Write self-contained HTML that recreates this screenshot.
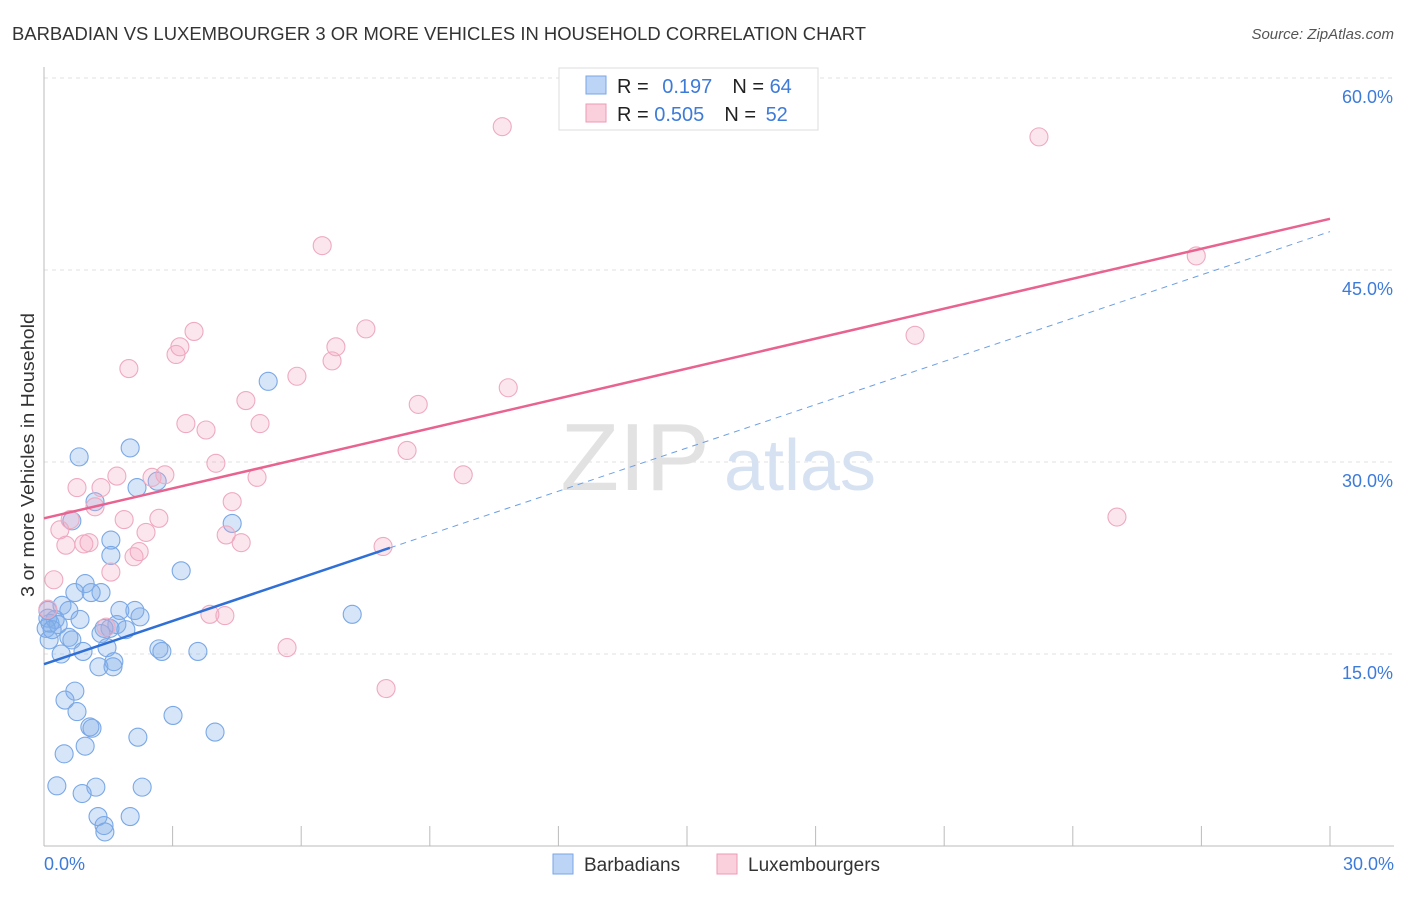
<!DOCTYPE html>
<html><head><meta charset="utf-8"><style>
body{margin:0;background:#fff;font-family:"Liberation Sans",sans-serif;}
svg text{font-family:"Liberation Sans",sans-serif;}
</style></head><body>
<svg width="1406" height="892" viewBox="0 0 1406 892" xmlns="http://www.w3.org/2000/svg">
<text x="12" y="40" font-size="18" fill="#333" textLength="854" lengthAdjust="spacingAndGlyphs">BARBADIAN VS LUXEMBOURGER 3 OR MORE VEHICLES IN HOUSEHOLD CORRELATION CHART</text>
<text x="1394" y="39" font-size="15" fill="#555" font-style="italic" text-anchor="end">Source: ZipAtlas.com</text>
<g id="grid"></g>
<text x="635" y="490" font-size="96" fill="#e2e2e2" font-family="Liberation Serif" text-anchor="middle">ZIP</text>
<text x="800" y="490" font-size="72" fill="#d6e2f2" text-anchor="middle">atlas</text>
<g id="axes"></g>
<g id="pts"></g>
<g id="lines"></g>
<text x="34" y="455" font-size="18" fill="#333" text-anchor="middle" textLength="284" lengthAdjust="spacingAndGlyphs" transform="rotate(-90 34 455)">3 or more Vehicles in Household</text>
<text x="44" y="870" font-size="18" fill="#3d7bd9">0.0%</text>
<text x="1394" y="870" font-size="18" fill="#3d7bd9" text-anchor="end">30.0%</text>
<g>
<rect x="559" y="68" width="259" height="62" fill="#fff" stroke="#ddd"/>
<rect x="586" y="76" width="20" height="18" fill="#bcd4f5" stroke="#7aa6e6"/>
<rect x="586" y="104" width="20" height="18" fill="#fbd0dd" stroke="#ec9ab5"/>
<text x="617" y="93" font-size="20" fill="#222">R = <tspan fill="#3d7bd9" dx="8">0.197</tspan><tspan dx="20">N = </tspan><tspan fill="#3d7bd9">64</tspan></text>
<text x="617" y="121" font-size="20" fill="#222">R = <tspan fill="#3d7bd9">0.505</tspan><tspan dx="20">N = </tspan><tspan fill="#3d7bd9" dx="4">52</tspan></text>
</g>
<g>
<rect x="553" y="854" width="20" height="20" fill="#bcd4f5" stroke="#7aa6e6"/>
<text x="584" y="871" font-size="19" fill="#333">Barbadians</text>
<rect x="717" y="854" width="20" height="20" fill="#fbd0dd" stroke="#ec9ab5"/>
<text x="748" y="871" font-size="19" fill="#333">Luxembourgers</text>
</g>
</svg>
<script>
const yTicks=[15,30,45,60];
const yTickLabels=["15.0%","30.0%","45.0%","60.0%"];
const xTicks=[0,3,6,9,12,15,18,21,24,27,30];
const blueX=[5.23,2.01,0.82,1.19,2.17,2.64,0.65,4.39,1.56,1.56,3.20,0.96,0.72,1.33,1.10,0.42,0.58,0.26,0.14,0.09,0.33,0.05,0.84,1.77,2.12,2.24,1.70,1.54,1.40,1.91,1.33,0.58,0.12,0.65,1.47,2.68,2.75,3.59,7.19,0.40,0.91,1.28,1.63,1.61,0.72,0.49,0.77,1.07,1.12,0.96,3.01,2.19,3.99,0.47,0.30,1.21,0.89,2.29,1.26,2.01,1.40,1.42,0.09,0.19];
const blueY=[36.3,31.1,30.4,26.9,28.0,28.5,25.4,25.2,23.9,22.7,21.5,20.5,19.8,19.8,19.8,18.8,18.4,17.7,17.4,17.8,17.3,17.0,17.7,18.4,18.4,17.9,17.3,17.0,17.0,16.9,16.6,16.3,16.1,16.1,15.5,15.4,15.2,15.2,18.1,15.0,15.2,14.0,14.4,14.0,12.1,11.4,10.5,9.3,9.2,7.8,10.2,8.5,8.9,7.2,4.7,4.6,4.1,4.6,2.3,2.3,1.6,1.1,18.4,16.9];
const pinkX=[10.69,23.21,6.49,26.88,3.50,7.51,3.17,3.08,6.81,6.72,1.98,20.32,10.83,5.90,4.71,8.73,3.31,3.78,5.04,8.47,4.01,9.78,2.82,2.52,1.70,0.77,1.33,4.97,4.39,1.19,0.61,1.87,2.68,25.03,0.37,2.38,4.25,4.60,0.51,1.05,0.93,2.22,2.10,7.91,1.56,0.23,0.09,3.87,4.22,1.45,5.67,7.98];
const pinkY=[56.2,55.4,46.9,46.1,40.2,40.4,39.0,38.4,39.0,37.9,37.3,39.9,35.8,36.7,34.8,34.5,33.0,32.5,33.0,30.9,29.9,29.0,29.0,28.8,28.9,28.0,28.0,28.8,26.9,26.5,25.5,25.5,25.6,25.7,24.7,24.5,24.3,23.7,23.5,23.7,23.6,23.0,22.6,23.4,21.4,20.8,18.5,18.1,18.0,17.1,15.5,12.3];
const blueTrend=[14.2,48.0,8.07];
const pinkTrend=[25.6,49.0];
const NS="http://www.w3.org/2000/svg";
const X=v=>44+v*1286/30, Y=v=>846-v*12.8;
function mk(tag,attrs,parent){const e=document.createElementNS(NS,tag);for(const k in attrs)e.setAttribute(k,attrs[k]);parent.appendChild(e);return e;}
const grid=document.getElementById('grid'),axes=document.getElementById('axes'),pts=document.getElementById('pts'),lines=document.getElementById('lines');
yTicks.forEach((t,i)=>{
 const l=mk('line',{x1:44,x2:1394,y1:Y(t),y2:Y(t),stroke:'#e0e0e0','stroke-dasharray':'4,4'},grid);
 
 
 const tx=mk('text',{x:1393,y:Y(t)+25,'font-size':18,fill:'#3d7bd9','text-anchor':'end'},grid);
 tx.textContent=yTickLabels[i];
 
 
});
const ya=mk('line',{x1:44,x2:44,y1:67,y2:846,stroke:'#bbb'},axes);


const xa=mk('line',{x1:44,x2:1394,y1:846,y2:846,stroke:'#bbb'},axes);


xTicks.forEach(t=>{
 const l=mk('line',{x1:X(t),x2:X(t),y1:826,y2:846,stroke:'#bbb'},axes);
 
 
});
blueX.forEach((v,i)=>{
 const c=mk('circle',{cx:X(v),cy:Y(blueY[i]),r:9,fill:'rgba(130,175,235,0.33)',stroke:'#7aa8e6','stroke-width':1.1},pts);
 
 
});
pinkX.forEach((v,i)=>{
 const c=mk('circle',{cx:X(v),cy:Y(pinkY[i]),r:9,fill:'rgba(245,165,190,0.28)',stroke:'#eeaac0','stroke-width':1.1},pts);
 
 
});
const bAt=x=>blueTrend[0]+(blueTrend[1]-blueTrend[0])*x/30;
const bs=mk('line',{x1:X(0),y1:Y(bAt(0)),x2:X(blueTrend[2]),y2:Y(bAt(blueTrend[2])),stroke:'#2f6fd6','stroke-width':2.5},lines);


const bd=mk('line',{x1:X(blueTrend[2]),y1:Y(bAt(blueTrend[2])),x2:X(30),y2:Y(bAt(30)),stroke:'#6d9fe3','stroke-width':1,'stroke-dasharray':'6,5'},lines);


const pl=mk('line',{x1:X(0),y1:Y(pinkTrend[0]),x2:X(30),y2:Y(pinkTrend[1]),stroke:'#e8638f','stroke-width':2.5},lines);


</script>
</body></html>
